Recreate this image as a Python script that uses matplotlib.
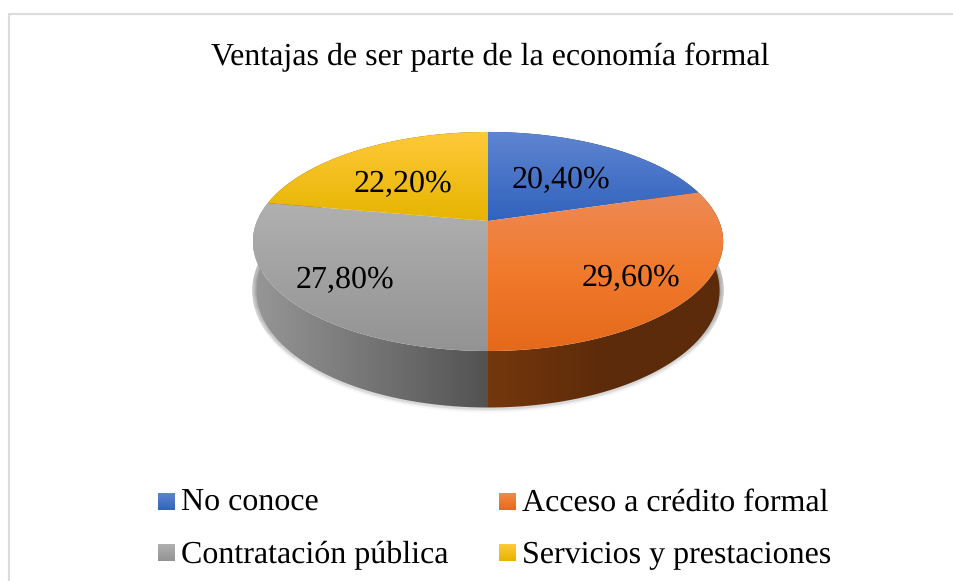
import numpy as np
import matplotlib
matplotlib.use("Agg")
import matplotlib.pyplot as plt
from matplotlib.colors import LinearSegmentedColormap
from matplotlib.patches import Polygon

plt.rcParams["font.family"] = ["Liberation Serif"]
plt.rcParams["text.hinting"] = "no_hinting"
plt.rcParams["text.hinting_factor"] = 1

title = "Ventajas de ser parte de la economía formal"
categories = ["No conoce", "Acceso a crédito formal", "Contratación pública", "Servicios y prestaciones"]
values = [20.4, 29.6, 27.8, 22.2]
value_labels = ["20,40%", "29,60%", "27,80%", "22,20%"]

# gradient stops for the top face and the side wall of each slice
top_colors = [["#5f85d1", "#3162bd"], ["#ee8a55", "#f17a2c", "#e5691a"], ["#b0b0b0", "#939393"], ["#ffca3a", "#e6b400"]]
side_colors = [["#1f3a70", "#1f3a70"], ["#75370d", "#5c2b0a", "#5c2b0a"], ["#979797", "#525252"], ["#7a5c00", "#7a5c00"]]
label_pos = [(561, 188), (631, 286), (345, 288), (403, 192)]
legend_pos = [(158, 493), (499, 493), (158, 544), (499, 544)]
legend_base = [511, 511, 563, 563]

# pie geometry, in pixels: a flat disc seen in perspective
cx, cy = 488, 221
a, b, k = 231, 105.7, 0.187
wall_scale = 0.985

fig = plt.figure(figsize=(9.54, 5.81), dpi=100)
ax = fig.add_axes([0, 0, 1, 1])
ax.set_xlim(0, 954)
ax.set_ylim(581, 0)
ax.axis("off")


def rim(start, end):
    t = np.radians(np.linspace(start, end, 200))
    u, v = np.sin(t), np.cos(t)
    return a * u / (1 + k * v) + cx, cy - b * v / (1 + k * v), v


def wall_edge(x, y, v):
    return cx + (x - cx) * wall_scale, y + 47.5 - 9 * v


def gradient(colors, extent, horizontal, clip, zorder):
    cmap = LinearSegmentedColormap.from_list("g", colors)
    grad = np.linspace(0, 1, 256)
    grad = grad.reshape(1, -1) if horizontal else grad.reshape(-1, 1)
    im = ax.imshow(grad, cmap=cmap, extent=extent, aspect="auto", origin="upper", zorder=zorder)
    im.set_clip_path(clip)


# frame, only top and left are visible in the picture
ax.plot([9, 9, 954], [581, 14, 14], color="#dcdcdc", lw=1.6, zorder=1)

angles = np.cumsum([0] + values) / sum(values) * 360

# soft shadow under the wall, darker towards both ends
sx, sy = wall_edge(*rim(85, 275))
for lw, alpha in [(6, 0.03), (3.5, 0.05), (2, 0.07)]:
    ax.plot(sx, sy + 1, color="black", lw=lw, alpha=alpha, zorder=2, solid_capstyle="round")
for span in [8, 14, 20, 26, 32, 38, 44]:
    for start, end in [(88, 88 + span), (272 - span, 272)]:
        sx, sy = wall_edge(*rim(start, end))
        ax.plot(sx + np.sign(sx - cx) * 1, sy, color="black", lw=4.5, alpha=0.035, zorder=2, solid_capstyle="round")

# side walls
for i in range(len(values)):
    x, y, v = rim(angles[i], angles[i + 1])
    x2, y2 = wall_edge(x, y, v)
    poly = Polygon(np.column_stack([np.r_[x, x2[::-1]], np.r_[y, y2[::-1]]]), closed=True, fc="none", ec="none",
                   zorder=3)
    ax.add_patch(poly)
    px, py = poly.get_xy().T
    gradient(side_colors[i], (px.min(), px.max(), py.max(), py.min()), True, poly, 3)

# top faces
for i in range(len(values)):
    x, y, v = rim(angles[i], angles[i + 1])
    pts = np.column_stack([np.r_[cx, x], np.r_[cy, y]])
    poly = Polygon(pts, closed=True, fc="none", ec="none", zorder=4)
    ax.add_patch(poly)
    gradient(top_colors[i], (pts[:, 0].min(), pts[:, 0].max(), pts[:, 1].max(), pts[:, 1].min()), False, poly, 4)

for (tx, ty), s in zip(label_pos, value_labels):
    ax.text(tx, ty, s, fontsize=23, ha="center", va="baseline", color="black", zorder=5)

ax.text(490, 65, title, fontsize=23, ha="center", va="baseline", color="black")

# legend
for i, (lx, ly) in enumerate(legend_pos):
    sw = Polygon([(lx, ly), (lx + 17, ly), (lx + 17, ly + 17), (lx, ly + 17)], closed=True, fc="none", ec="none",
                 zorder=4)
    ax.add_patch(sw)
    gradient(top_colors[i], (lx, lx + 17, ly + 17, ly), False, sw, 4)
    ax.text(lx + 23.5, legend_base[i], categories[i], fontsize=23, ha="left", va="baseline", color="black")

ax.set_xlim(0, 954)
ax.set_ylim(581, 0)
fig.savefig("out.png", dpi=100, facecolor="white")
